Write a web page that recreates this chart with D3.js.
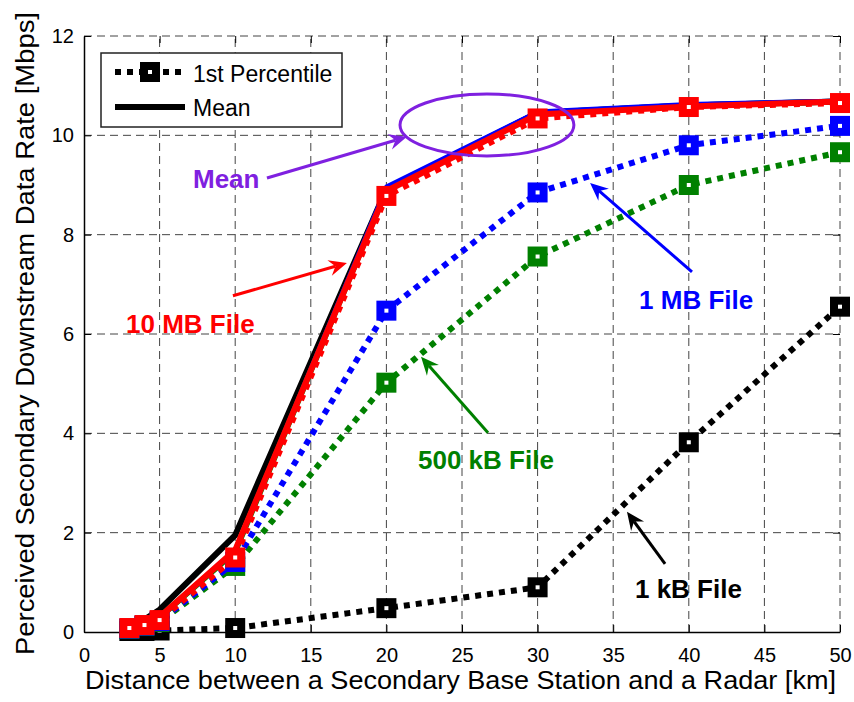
<!DOCTYPE html>
<html lang="en">
<head>
<meta charset="utf-8">
<title>Perceived Secondary Downstream Data Rate</title>
<script src="https://d3js.org/d3.v7.min.js"></script>
<style>
  body { margin: 0; background: #fff; }
  text { font-family: Arial, "Liberation Sans", sans-serif; }
</style>
</head>
<body>
<div id="chart"></div>
<script>
// distances [km]
const distances = [3, 4, 5, 10, 20, 30, 40, 50];

// 1st percentile data rate [Mbps] per file size
const pct1kB   = [0.02, 0.02, 0.03, 0.08, 0.48, 0.90, 3.82, 6.55];
const pct500kB = [0.06, 0.12, 0.20, 1.33, 5.02, 7.56, 9.00, 9.66];
const pct1MB   = [0.07, 0.13, 0.22, 1.41, 6.47, 8.85, 9.80, 10.19];
const pct10MB  = [0.08, 0.14, 0.24, 1.50, 8.78, 10.34, 10.57, 10.65];

// mean data rate [Mbps] per file size
const mean1kB   = [0.12, 0.25, 0.45, 1.95, 8.92, 10.45, 10.60, 10.68];
const mean500kB = [0.10, 0.18, 0.30, 1.62, 8.90, 10.45, 10.60, 10.68];
const mean1MB   = [0.10, 0.18, 0.30, 1.65, 8.97, 10.48, 10.63, 10.70];
const mean10MB  = [0.10, 0.17, 0.30, 1.65, 8.88, 10.42, 10.58, 10.68];

const xTicks = [0, 5, 10, 15, 20, 25, 30, 35, 40, 45, 50];
const yTicks = [0, 2, 4, 6, 8, 10, 12];

const seriesColors = { k: "#000000", g: "#008000", b: "#0000ff", r: "#ff0000" };

// draw order: per file size, mean then percentile
const series = [
  { values: mean1kB,   color: seriesColors.k, kind: "mean" },
  { values: pct1kB,    color: seriesColors.k, kind: "pct" },
  { values: mean500kB, color: seriesColors.g, kind: "mean" },
  { values: pct500kB,  color: seriesColors.g, kind: "pct" },
  { values: mean1MB,   color: seriesColors.b, kind: "mean" },
  { values: pct1MB,    color: seriesColors.b, kind: "pct" },
  { values: mean10MB,  color: seriesColors.r, kind: "mean" },
  { values: pct10MB,   color: seriesColors.r, kind: "pct" }
];

// annotations in data units
const purple = "#7f20e0";
const notes = [
  { text: "Mean",        x: 7.21,  y: 8.94, color: purple },
  { text: "10 MB File",  x: 2.78,  y: 6.02, color: seriesColors.r },
  { text: "1 MB File",   x: 36.71, y: 6.50, color: seriesColors.b },
  { text: "500 kB File", x: 22.09, y: 3.28, color: seriesColors.g },
  { text: "1 kB File",   x: 36.44, y: 0.68, color: seriesColors.k }
];
const arrows = [
  { x1: 12.10, y1: 9.14, x2: 21.36, y2: 9.97, color: purple },
  { x1: 9.85,  y1: 6.77, x2: 17.39, y2: 7.43, color: seriesColors.r },
  { x1: 40.21, y1: 7.25, x2: 33.47, y2: 9.04, color: seriesColors.b },
  { x1: 26.72, y1: 4.01, x2: 22.29, y2: 5.54, color: seriesColors.g },
  { x1: 38.43, y1: 1.37, x2: 35.91, y2: 2.42, color: seriesColors.k }
];
const ellipse = { cx: 26.65, cy: 10.21, rx: 5.75, ry: 0.624 };

const width = 854, height = 702;
const margin = { top: 36, right: 14, bottom: 70, left: 84 };

const svg = d3.select("#chart").append("svg")
  .attr("width", width)
  .attr("height", height);

const x = d3.scaleLinear().domain([0, 50]).range([margin.left, width - margin.right]);
const y = d3.scaleLinear().domain([0, 12]).range([height - margin.bottom, margin.top]);

const x0 = x.range()[0], x1 = x.range()[1];
const y0 = y.range()[0], y1 = y.range()[1];

// grid
const grid = svg.append("g").attr("stroke", "#444").attr("stroke-width", 1)
  .attr("stroke-dasharray", "8,5");
grid.selectAll(".gx").data(xTicks.slice(1)).enter().append("line")
  .attr("x1", d => x(d)).attr("x2", d => x(d)).attr("y1", y0).attr("y2", y1);
grid.selectAll(".gy").data(yTicks.slice(1)).enter().append("line")
  .attr("y1", d => y(d)).attr("y2", d => y(d)).attr("x1", x0).attr("x2", x1);

// axes with inward ticks
const xAxis = svg.append("g").attr("transform", `translate(0,${y0})`)
  .call(d3.axisBottom(x).tickValues(xTicks).tickSizeInner(-7).tickSizeOuter(0).tickPadding(16));
const yAxis = svg.append("g").attr("transform", `translate(${x0},0)`)
  .call(d3.axisLeft(y).tickValues(yTicks).tickSizeInner(-7).tickSizeOuter(0).tickPadding(10));
svg.append("g").attr("transform", `translate(0,${y1})`)
  .call(d3.axisTop(x).tickValues(xTicks).tickSizeInner(-7).tickSizeOuter(0).tickFormat(""))
  .select(".domain").remove();
svg.append("g").attr("transform", `translate(${x1},0)`)
  .call(d3.axisRight(y).tickValues(yTicks).tickSizeInner(-7).tickSizeOuter(0).tickFormat(""))
  .select(".domain").remove();

[xAxis, yAxis].forEach(a => {
  a.selectAll("text").style("font-size", "20px").attr("fill", "#000");
  a.select(".domain").attr("stroke", "#000").attr("stroke-width", 1.5);
});

// lines
const line = d3.line().x((d, i) => x(distances[i])).y(d => y(d));

series.forEach(s => {
  svg.append("path")
    .datum(s.values)
    .attr("fill", "none")
    .attr("stroke", s.color)
    .attr("stroke-width", s.kind === "mean" ? (s.color === seriesColors.b ? 4 : 6) : 6)
    .attr("stroke-dasharray", s.kind === "pct" ? "6,6" : null)
    .attr("stroke-linejoin", "miter")
    .attr("d", line);
  if (s.kind === "pct") {
    const m = svg.append("g");
    m.selectAll("rect").data(s.values).enter().append("rect")
      .attr("x", (d, i) => x(distances[i]) - 6)
      .attr("y", d => y(d) - 6)
      .attr("width", 12).attr("height", 12)
      .attr("fill", "#fff")
      .attr("stroke", s.color)
      .attr("stroke-width", 8);
  }
});

// ellipse and arrows
svg.append("ellipse")
  .attr("cx", x(ellipse.cx)).attr("cy", y(ellipse.cy))
  .attr("rx", x(ellipse.rx) - x(0)).attr("ry", y(0) - y(ellipse.ry))
  .attr("fill", "none").attr("stroke", purple).attr("stroke-width", 3);

arrows.forEach(a => {
  const ax = x(a.x1), ay = y(a.y1), bx = x(a.x2), by = y(a.y2);
  const ang = Math.atan2(by - ay, bx - ax);
  const L = 18, W = 8, N = 12;
  const ux = Math.cos(ang), uy = Math.sin(ang);
  const px = -uy, py = ux;
  const nx = bx - ux * N, ny = by - uy * N;
  svg.append("line")
    .attr("x1", ax).attr("y1", ay).attr("x2", nx).attr("y2", ny)
    .attr("stroke", a.color).attr("stroke-width", 3);
  const pts = [
    [bx, by],
    [bx - ux * L + px * W, by - uy * L + py * W],
    [nx, ny],
    [bx - ux * L - px * W, by - uy * L - py * W]
  ];
  svg.append("polygon").attr("points", pts.map(p => p.join(",")).join(" "))
    .attr("fill", a.color);
});

svg.selectAll(".note").data(notes).enter().append("text")
  .attr("x", d => x(d.x)).attr("y", d => y(d.y))
  .attr("fill", d => d.color)
  .style("font-size", "26px").style("font-weight", "bold")
  .text(d => d.text);

// legend
const lg = svg.append("g");
lg.append("rect").attr("x", 101).attr("y", 53).attr("width", 241).attr("height", 74)
  .attr("fill", "#fff").attr("stroke", "#222").attr("stroke-width", 1.5);
lg.append("line").attr("x1", 115).attr("x2", 185).attr("y1", 72).attr("y2", 72)
  .attr("stroke", "#000").attr("stroke-width", 6).attr("stroke-dasharray", "6,6");
lg.append("rect").attr("x", 144).attr("y", 66).attr("width", 12).attr("height", 12)
  .attr("fill", "#fff").attr("stroke", "#000").attr("stroke-width", 8);
lg.append("line").attr("x1", 115).attr("x2", 185).attr("y1", 107).attr("y2", 107)
  .attr("stroke", "#000").attr("stroke-width", 6);
lg.append("text").attr("x", 193).attr("y", 82).style("font-size", "23px").text("1st Percentile");
lg.append("text").attr("x", 193).attr("y", 116).style("font-size", "23px").text("Mean");

// axis titles
svg.append("text")
  .attr("x", 85).attr("y", 689)
  .attr("textLength", 751).attr("lengthAdjust", "spacingAndGlyphs")
  .style("font-size", "26px")
  .text("Distance between a Secondary Base Station and a Radar [km]");
svg.append("text")
  .attr("transform", "translate(34,655) rotate(-90)")
  .attr("textLength", 643).attr("lengthAdjust", "spacingAndGlyphs")
  .style("font-size", "26px")
  .text("Perceived Secondary Downstream Data Rate [Mbps]");
</script>
</body>
</html>
